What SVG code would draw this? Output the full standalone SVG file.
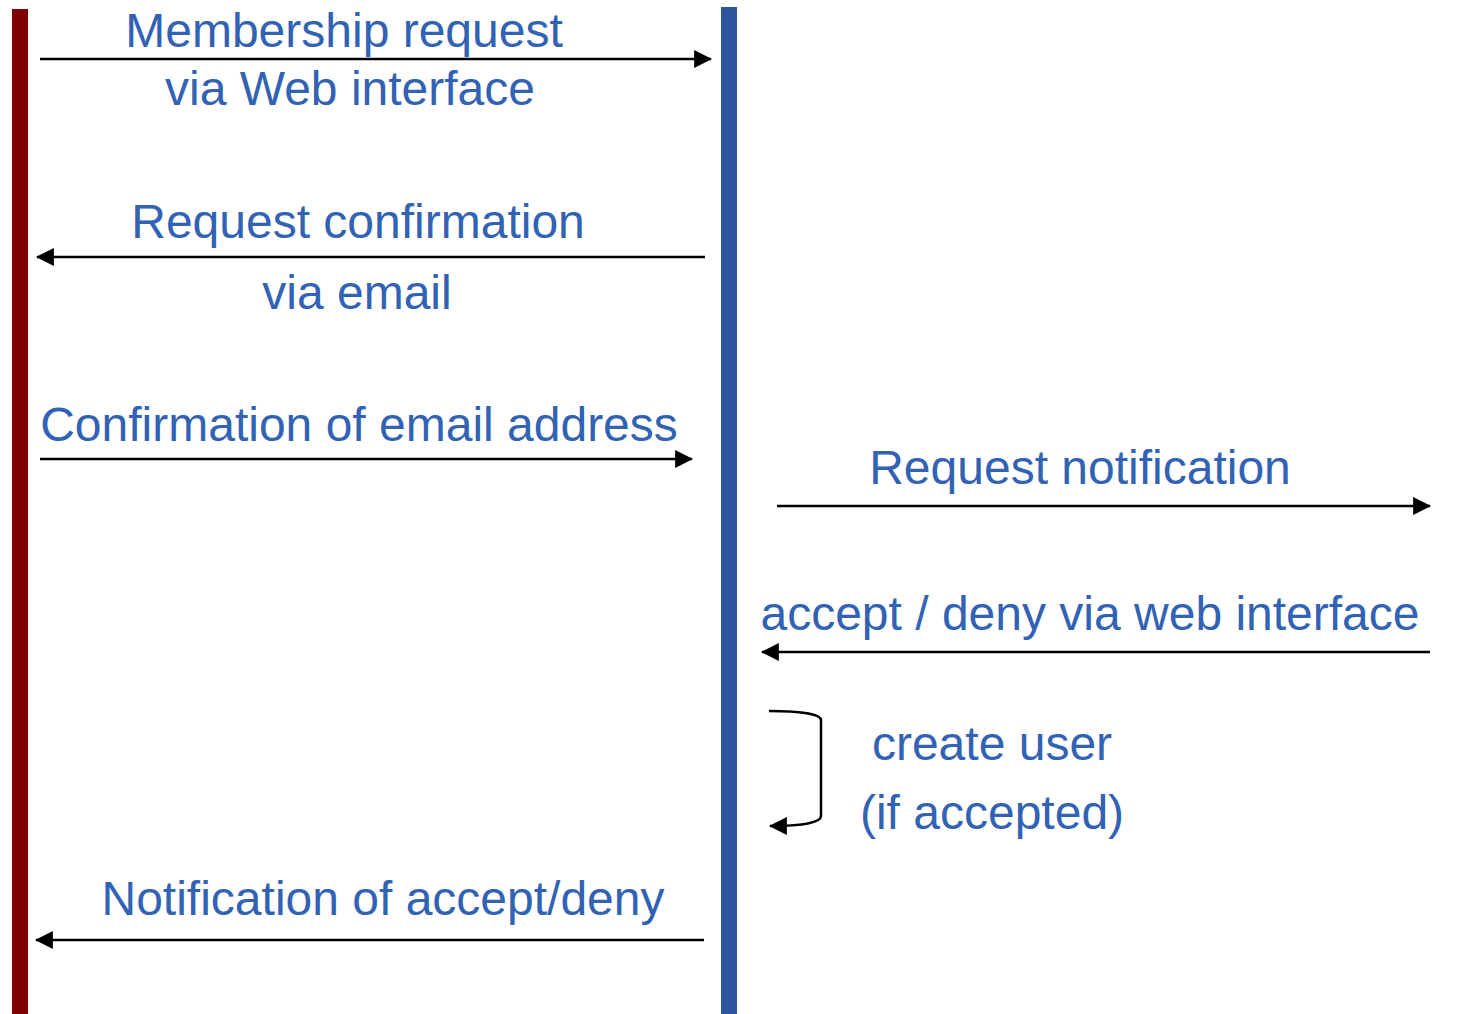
<svg xmlns="http://www.w3.org/2000/svg" width="1458" height="1014" viewBox="0 0 1458 1014">
<defs>
<style>
.lbl{font-family:"Liberation Sans",Arial,sans-serif;font-size:48px;fill:#3162B4;text-anchor:middle}
.msg{fill:none;stroke:#000;stroke-width:2.5}
</style>
<marker id="ah" markerUnits="userSpaceOnUse" markerWidth="18" markerHeight="18" viewBox="0 0 16 16" refX="15" refY="8" orient="auto">
<path d="M0,0 L16,8 L0,16 Z" fill="#000"/>
</marker>
</defs>
<rect width="1458" height="1014" fill="#fff"/>
<g id="lifeline-client"><rect x="12" y="9" width="16" height="1005" fill="#800000"/></g>
<g id="lifeline-server"><rect x="721" y="7" width="16" height="1007" fill="#2D559F"/></g>
<g id="connectors">
<line class="msg" x1="40" y1="59" x2="711" y2="59" marker-end="url(#ah)"/>
<line class="msg" x1="705" y1="257" x2="37" y2="257" marker-end="url(#ah)"/>
<line class="msg" x1="40" y1="459" x2="692" y2="459" marker-end="url(#ah)"/>
<line class="msg" x1="777" y1="506" x2="1430" y2="506" marker-end="url(#ah)"/>
<line class="msg" x1="1430" y1="652" x2="762" y2="652" marker-end="url(#ah)"/>
<path class="msg" d="M769,711 C800,711 821,714 821,720 L821,816 C821,823 800,826 770,826" marker-end="url(#ah)"/>
<line class="msg" x1="704" y1="940" x2="36" y2="940" marker-end="url(#ah)"/>
</g>
<g id="labels">
<text class="lbl" x="344" y="47">Membership request</text>
<text class="lbl" x="350" y="105">via Web interface</text>
<text class="lbl" x="358" y="238">Request confirmation</text>
<text class="lbl" x="357" y="309">via email</text>
<text class="lbl" x="359" y="441">Confirmation of email address</text>
<text class="lbl" x="1080" y="484">Request notification</text>
<text class="lbl" x="1090" y="630">accept / deny via web interface</text>
<text class="lbl" x="992" y="760">create user</text>
<text class="lbl" x="992" y="829">(if accepted)</text>
<text class="lbl" x="383" y="915">Notification of accept/deny</text>
</g>
</svg>
